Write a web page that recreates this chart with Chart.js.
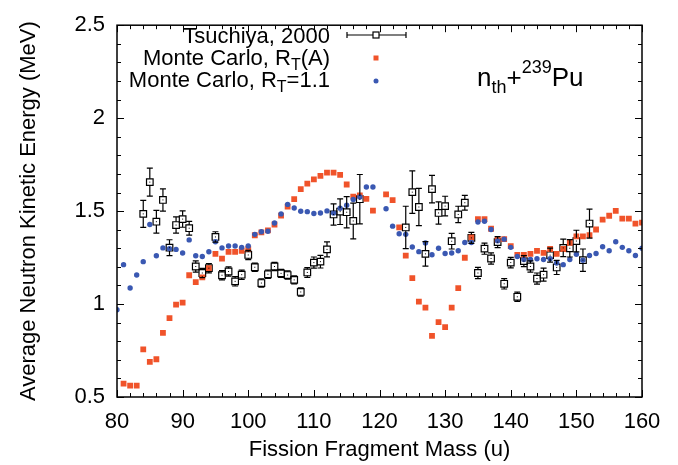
<!DOCTYPE html>
<html>
<head>
<meta charset="utf-8">
<script src="https://cdn.jsdelivr.net/npm/chart.js@4.4.0/dist/chart.umd.min.js"></script>
<style>
  html, body { margin: 0; padding: 0; background: #fff; }
</style>
</head>
<body>
<canvas id="chart" width="678" height="465"></canvas>
<script>
// fragment masses (u) for the Monte Carlo curves
const masses = [80, 81, 82, 83, 84, 85, 86, 87, 88, 89,
  90, 91, 92, 93, 94, 95, 96, 97, 98, 99,
  100, 101, 102, 103, 104, 105, 106, 107, 108, 109,
  110, 111, 112, 113, 114, 115, 116, 117, 118, 119,
  120, 121, 122, 123, 124, 125, 126, 127, 128, 129,
  130, 131, 132, 133, 134, 135, 136, 137, 138, 139,
  140, 141, 142, 143, 144, 145, 146, 147, 148, 149,
  150, 151, 152, 153, 154, 155, 156, 157, 158, 159,
  160];

// Monte Carlo, R_T(A)
const mcVariable = [null, 0.572, 0.561, 0.561, 0.756, 0.689, 0.703, 0.845, 0.924, 0.997,
  1.008, 1.155, 1.118, 1.144, 1.193, 1.270, 1.244, 1.281, 1.281, 1.286,
  1.298, 1.370, 1.386, 1.396, 1.428, 1.476, 1.524, 1.564, 1.618, 1.648,
  1.671, 1.690, 1.707, 1.707, 1.695, 1.643, 1.578, 1.585, 1.566, 1.503,
  null, 1.590, 1.559, 1.412, 1.260, 1.139, 1.013, 0.981, 0.829, 0.903,
  0.876, 0.981, 1.086, 1.249, 1.359, 1.457, 1.457, 1.405, 1.347, 1.349,
  1.312, 1.265, 1.265, 1.270, 1.286, 1.275, 1.296, 1.270, 1.296, 1.329,
  1.364, 1.364, 1.371, 1.401, 1.454, 1.475, 1.501, 1.459, 1.459, 1.433,
  1.438];

// Monte Carlo, R_T = 1.1
const mcFixed = [0.969, 1.212, 1.086, 1.156, 1.228, 1.428, 1.260, 1.302, 1.298, 1.294,
  1.275, 1.345, 1.260, 1.256, 1.281, 1.335, 1.302, 1.312, 1.312, 1.305,
  1.312, 1.375, 1.389, 1.392, 1.436, 1.485, 1.536, 1.517, 1.499, 1.497,
  1.487, 1.490, 1.501, 1.490, 1.515, 1.532, 1.562, 1.576, 1.630, 1.630,
  null, 1.513, 1.419, 1.378, 1.375, 1.307, 1.282, 1.329, 1.265, 1.300,
  1.272, 1.275, 1.287, 1.331, 1.331, 1.441, 1.445, 1.401, 1.340, 1.349,
  1.305, 1.256, 1.240, 1.240, 1.244, 1.240, 1.244, 1.221, 1.212, 1.240,
  1.268, 1.236, 1.261, 1.272, 1.308, 1.287, 1.335, 1.305, 1.287, 1.261,
  1.300];

// Tsuchiya, 2000 (measured)
const expMass = [84, 85, 86, 87, 88, 89, 90, 91, 92, 93,
  94, 95, 96, 97, 98, 99, 100, 101, 102, 103,
  104, 105, 106, 107, 108, 109, 110, 111, 112, 113,
  114, 115, 116, 117,
  124, 125, 126, 127, 128, 129, 130, 131, 132, 133,
  134, 135, 136, 137, 138, 139, 140, 141, 142, 143,
  144, 145, 146, 147, 148, 149, 150, 151, 152];
const expValue = [1.485, 1.656, 1.443, 1.560, 1.303, 1.425, 1.457, 1.408, 1.202, 1.167,
  1.193, 1.361, 1.155, 1.175, 1.122, 1.158, 1.264, 1.198, 1.113, 1.160,
  1.202, 1.165, 1.156, 1.130, 1.065, 1.170, 1.223, 1.228, 1.294, 1.482,
  1.497, 1.494, 1.447, 1.564,
  1.412, 1.602, 1.522, 1.270, 1.618, 1.490, 1.527, 1.338, 1.482, 1.545,
  1.356, 1.167, 1.298, 1.245, 1.333, 1.109, 1.223, 1.039, 1.231, 1.202,
  1.137, 1.158, 1.263, 1.197, 1.302, 1.300, 1.339, 1.236, 1.433];
const expError = [0.073, 0.075, 0.061, 0.060, 0.043, 0.044, 0.044, 0.037, 0.030, 0.025,
  0.025, 0.028, 0.025, 0.025, 0.025, 0.025, 0.025, 0.022, 0.022, 0.022,
  0.022, 0.022, 0.022, 0.022, 0.022, 0.026, 0.030, 0.034, 0.040, 0.057,
  0.069, 0.084, 0.096, 0.133,
  0.114, 0.114, 0.100, 0.066, 0.074, 0.060, 0.053, 0.042, 0.044, 0.040,
  0.030, 0.030, 0.030, 0.030, 0.030, 0.028, 0.028, 0.025, 0.030, 0.030,
  0.030, 0.035, 0.038, 0.038, 0.047, 0.047, 0.058, 0.060, 0.078];

const FONT = '"Liberation Sans", Arial, Helvetica, sans-serif';
const ORANGE = '#f0532a';
const BLUE = '#3a58b2';
const EXP_BOX = 3.3; // half side of the open squares

const toPoints = (xs, ys) => xs.map((x, i) => ({ x: x, y: ys[i] })).filter(p => p.y !== null);

// error bars + frame + inward ticks + legend text
const decor = {
  id: 'decor',
  afterDatasetsDraw(chart) {
    const ctx = chart.ctx;
    const xs = chart.scales.x, ys = chart.scales.y;

    // error bars of the measured points
    ctx.save();
    ctx.strokeStyle = '#000';
    ctx.lineWidth = 1.2;
    expMass.forEach((m, i) => {
      const px = xs.getPixelForValue(m);
      const py = ys.getPixelForValue(expValue[i]);
      const top = ys.getPixelForValue(expValue[i] + expError[i]);
      const bot = ys.getPixelForValue(expValue[i] - expError[i]);
      ctx.beginPath();
      if (top < py - EXP_BOX) { ctx.moveTo(px, top); ctx.lineTo(px, py - EXP_BOX); }
      if (bot > py + EXP_BOX) { ctx.moveTo(px, py + EXP_BOX); ctx.lineTo(px, bot); }
      ctx.moveTo(px - 3, top); ctx.lineTo(px + 3, top);
      ctx.moveTo(px - 3, bot); ctx.lineTo(px + 3, bot);
      ctx.stroke();
      ctx.fillStyle = '#000';
      ctx.fillRect(px - 0.5, py - 0.5, 1, 1);
    });
    ctx.restore();
  },
  afterDraw(chart) {
    const ctx = chart.ctx;
    const xs = chart.scales.x, ys = chart.scales.y;
    const a = chart.chartArea;
    ctx.save();
    ctx.strokeStyle = '#000';
    ctx.lineWidth = 1.5;
    ctx.strokeRect(a.left, a.top, a.right - a.left, a.bottom - a.top);

    ctx.lineWidth = 1;
    ctx.beginPath();
    for (let v = 80; v <= 160; v += 2) {
      const px = Math.round(xs.getPixelForValue(v)) + 0.5;
      const len = v % 10 === 0 ? 7 : 4;
      ctx.moveTo(px, a.bottom); ctx.lineTo(px, a.bottom - len);
      ctx.moveTo(px, a.top); ctx.lineTo(px, a.top + len);
    }
    for (let k = 5; k <= 25; k++) {
      const py = Math.round(ys.getPixelForValue(k / 10)) + 0.5;
      const len = k % 5 === 0 ? 7 : 4;
      ctx.moveTo(a.left, py); ctx.lineTo(a.left + len, py);
      ctx.moveTo(a.right, py); ctx.lineTo(a.right - len, py);
    }
    ctx.stroke();

    // legend
    ctx.fillStyle = '#000';
    ctx.textBaseline = 'alphabetic';
    const rich = (parts, right, base) => {
      let w = 0;
      parts.forEach(p => { ctx.font = p.s + 'px ' + FONT; w += ctx.measureText(p.t).width; });
      let x = right - w;
      ctx.textAlign = 'left';
      parts.forEach(p => {
        ctx.font = p.s + 'px ' + FONT;
        ctx.fillText(p.t, x, base + (p.dy || 0));
        x += ctx.measureText(p.t).width;
      });
    };
    rich([{ t: 'Tsuchiya, 2000', s: 22 }], 330, 43);
    rich([{ t: 'Monte Carlo, R', s: 22 }, { t: 'T', s: 16, dy: 5 }, { t: '(A)', s: 22 }], 330, 65);
    rich([{ t: 'Monte Carlo, R', s: 22 }, { t: 'T', s: 16, dy: 5 }, { t: '=1.1', s: 22 }], 330, 87);

    // legend samples
    ctx.lineWidth = 1.2;
    ctx.beginPath();
    ctx.moveTo(347, 35); ctx.lineTo(373, 35);
    ctx.moveTo(379, 35); ctx.lineTo(406, 35);
    ctx.moveTo(347, 32); ctx.lineTo(347, 38);
    ctx.moveTo(406, 32); ctx.lineTo(406, 38);
    ctx.stroke();
    ctx.strokeRect(376 - 3, 35 - 3, 6, 6);
    ctx.fillStyle = ORANGE;
    ctx.fillRect(376 - 2.5, 58 - 2.5, 5, 5);
    ctx.fillStyle = BLUE;
    ctx.beginPath(); ctx.arc(376, 81, 2.5, 0, Math.PI * 2); ctx.fill();

    // reaction label
    ctx.fillStyle = '#000';
    ctx.textAlign = 'left';
    let x = 477;
    const seg = (t, s, y) => { ctx.font = s + 'px ' + FONT; ctx.fillText(t, x, y); x += ctx.measureText(t).width; };
    seg('n', 26, 86);
    seg('th', 18, 93);
    seg('+', 26, 86);
    seg('239', 18, 73);
    seg('Pu', 26, 86);
    ctx.restore();
  }
};

const tickFont = { family: FONT, size: 22 };

new Chart(document.getElementById('chart'), {
  type: 'scatter',
  data: {
    datasets: [
      {
        label: 'Tsuchiya, 2000',
        data: toPoints(expMass, expValue),
        pointStyle: 'rect',
        pointRadius: EXP_BOX * Math.SQRT2,
        backgroundColor: 'rgba(0,0,0,0)',
        borderColor: '#000',
        borderWidth: 1.2,
        order: 3
      },
      {
        label: 'Monte Carlo, R_T(A)',
        data: toPoints(masses, mcVariable),
        pointStyle: 'rect',
        pointRadius: 2.9 * Math.SQRT2,
        backgroundColor: ORANGE,
        borderWidth: 0,
        order: 2
      },
      {
        label: 'Monte Carlo, R_T=1.1',
        data: toPoints(masses, mcFixed),
        pointStyle: 'circle',
        pointRadius: 2.7,
        backgroundColor: BLUE,
        borderWidth: 0,
        order: 1
      }
    ]
  },
  options: {
    responsive: false,
    animation: false,
    devicePixelRatio: 1,
    layout: { padding: { top: 16, right: 36, left: 0, bottom: 0 } },
    plugins: { legend: { display: false }, tooltip: { enabled: false } },
    scales: {
      x: {
        type: 'linear', min: 80, max: 160,
        ticks: { stepSize: 10, padding: 12, color: '#000', font: tickFont, maxRotation: 0 },
        grid: { display: false, drawTicks: false },
        border: { display: false },
        title: { display: true, text: 'Fission Fragment Mass (u)', color: '#000', font: tickFont, padding: { top: 0, bottom: 2 } },
        afterFit(s) { s.height = 68; }
      },
      y: {
        type: 'linear', min: 0.5, max: 2.5,
        ticks: { stepSize: 0.5, padding: 12, color: '#000', font: tickFont, callback: v => String(v) },
        grid: { display: false, drawTicks: false },
        border: { display: false },
        title: { display: true, text: 'Average Neutron Kinetic Energy (MeV)', color: '#000', font: tickFont, padding: { top: 16, bottom: 0 } },
        afterFit(s) { s.width = 117; }
      }
    }
  },
  plugins: [decor]
});
</script>
</body>
</html>
